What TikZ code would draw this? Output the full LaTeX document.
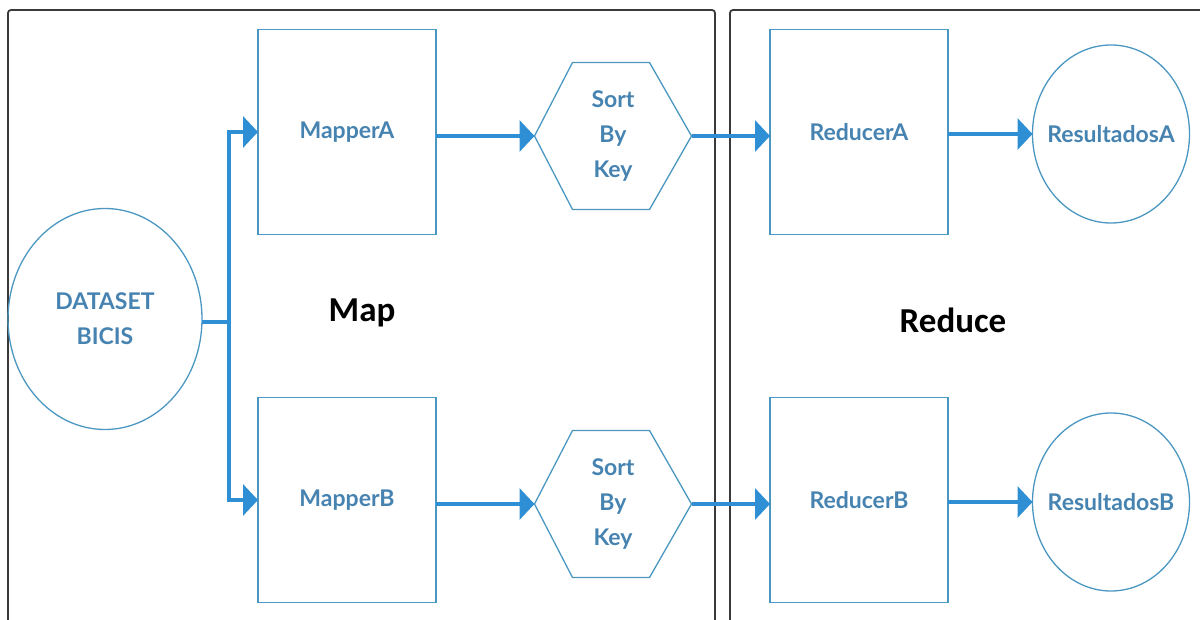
\documentclass[tikz,border=0pt]{standalone}
\usepackage{fontspec}
\setmainfont{Lato}
\newfontfamily\calib{Carlito}
\usetikzlibrary{shapes.geometric,arrows.meta,calc}
\definecolor{boxc}{HTML}{4B97C2}
\definecolor{txtc}{HTML}{4683B0}
\definecolor{arrc}{HTML}{2F8FD5}
\definecolor{panc}{HTML}{3A3A3A}
\begin{document}
\begin{tikzpicture}[x=1pt,y=-1pt,
  every node/.style={inner sep=0pt, outer sep=0pt},
  blk/.style={draw=boxc, line width=1.6pt, minimum width=178pt, minimum height=205pt,
     text=txtc, font=\bfseries\fontsize{23}{34}\selectfont},
  ell/.style={ellipse, draw=boxc, line width=1.3pt, text=txtc, inner xsep=-20pt,
     font=\bfseries\fontsize{23}{35}\selectfont, align=center},
  hexn/.style={minimum width=157pt, minimum height=147pt, text=txtc,
     font=\bfseries\fontsize{23}{35}\selectfont, align=center},
  hexline/.style={draw=boxc, line width=1.3pt},
  conn/.style={draw=arrc, line width=3.5pt},
  arr/.style={conn, -{Triangle[length=15pt,width=31pt]}},
  panel/.style={draw=panc, line width=1.8pt, rounded corners=3pt},
  lbl/.style={font=\calib\bfseries\fontsize{35}{40}\selectfont, text=black}
]
\useasboundingbox (0,0) rectangle (1200,620);
\begin{scope}
\clip (0,0) rectangle (1200,620);
\draw[panel] (8,640) -- (8,10) -- (715,10) -- (715,640);
\draw[panel] (730,640) -- (730,10) -- (1230,10);
\end{scope}

\node[ell, minimum width=194pt, minimum height=221pt] (ds) at (105,319) {DATASET\\BICIS};
\node[blk] (mA) at (347,132) {MapperA};
\node[blk] (mB) at (347,500) {MapperB};
\node[hexn] (hA) at (613,136) {Sort\\By\\Key};
\node[hexn] (hB) at (613,504) {Sort\\By\\Key};
\node[blk] (rA) at (859,132) {ReducerA};
\node[blk] (rB) at (859,500) {ReducerB};
\node[ell, minimum width=157pt, minimum height=178pt] (oA) at (1111,134) {ResultadosA};
\node[ell, minimum width=157pt, minimum height=178pt] (oB) at (1111,502) {ResultadosB};

\node[lbl] (map) at (362,313) {Map};
\node[lbl] (red) at (953,320) {Reduce};

\foreach \h in {hA,hB}{
  \draw[hexline] (\h.west) -- ($(\h.north west)+(38,0)$) -- ($(\h.north east)+(-42,0)$)
    -- (\h.east) -- ($(\h.south east)+(-42,0)$) -- ($(\h.south west)+(38,0)$) -- cycle;
}

\coordinate (j) at (229,322);
\draw[conn] (ds.east |- j) -- (j);
\draw[arr] (j) |- (mA.west);
\draw[arr] (j) |- (mB.west);
\draw[arr] (mA.east |- hA.west) -- (hA.west);
\draw[arr] (mB.east |- hB.west) -- (hB.west);
\draw[arr] (hA.east) -- (rA.west |- hA.east);
\draw[arr] (hB.east) -- (rB.west |- hB.east);
\draw[arr] (rA.east |- oA.west) -- (oA.west);
\draw[arr] (rB.east |- oB.west) -- (oB.west);
\end{tikzpicture}
\end{document}
